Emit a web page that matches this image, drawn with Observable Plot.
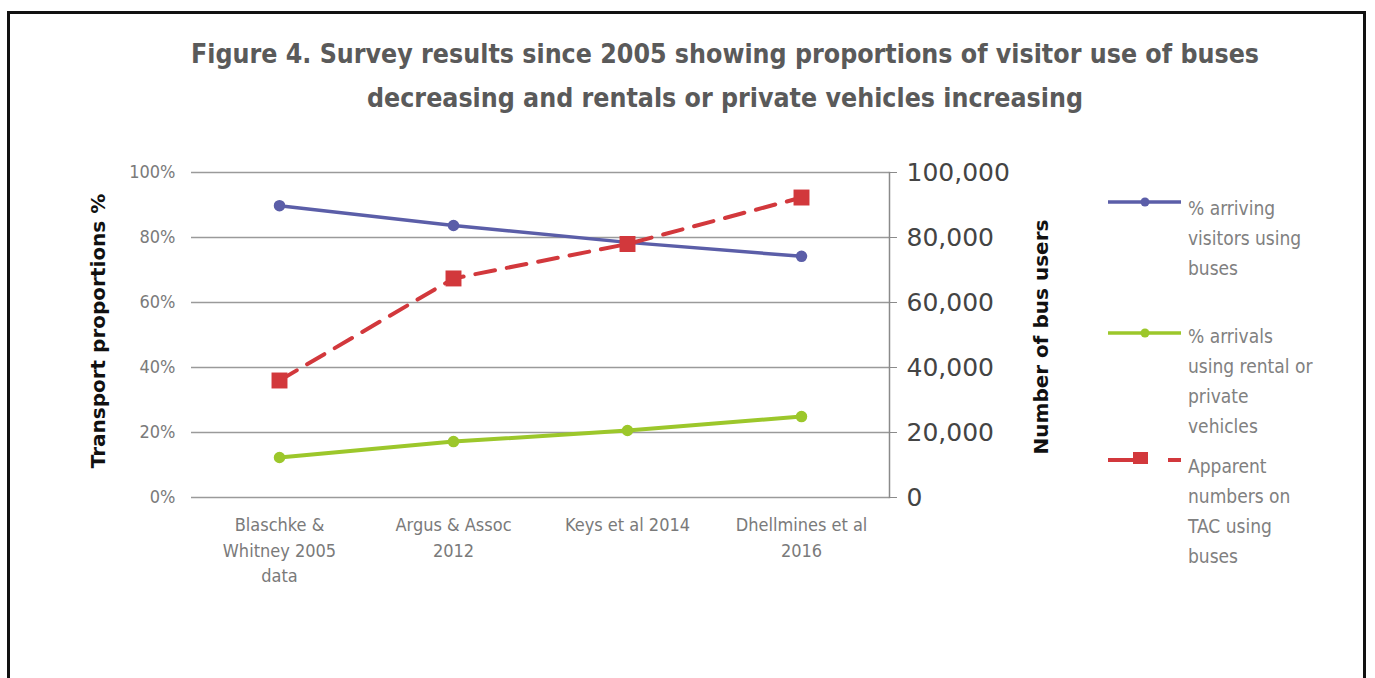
<!DOCTYPE html>
<html><head><meta charset="utf-8">
<script src="https://cdn.jsdelivr.net/npm/d3@7"></script>
<script src="https://cdn.jsdelivr.net/npm/@observablehq/plot@0.6"></script>
<style>
body{margin:0;background:#fff;width:1375px;height:678px;overflow:hidden;position:relative;font-family:"DejaVu Sans Condensed","DejaVu Sans",sans-serif;}
#frame{position:absolute;left:7px;top:11px;width:1359px;height:720px;border:3px solid #111;box-sizing:border-box;}
#title{position:absolute;left:0;top:32px;width:1450px;text-align:center;font-family:"Liberation Sans Narrow","DejaVu Sans Condensed",sans-serif;font-weight:bold;font-size:26.5px;line-height:44px;color:#5a5a5a;}
#chart{position:absolute;left:0;top:0;}
.ax{position:absolute;transform:translate(-50%,-50%) rotate(-90deg);white-space:nowrap;font-family:"DejaVu Sans",sans-serif;font-weight:bold;font-size:20px;color:#111;}
.leg{position:absolute;left:1108px;}
.leg svg{position:absolute;left:0;top:0;overflow:visible;}
.leg .t{position:absolute;left:80px;top:0;width:180px;font-size:19px;line-height:30px;color:#808080;white-space:pre;}
</style></head>
<body>
<div id="frame"></div>
<div id="title"></div>
<div id="chart"></div>
<div id="axl" class="ax" style="left:98px;top:331px;"></div>
<div id="axr" class="ax" style="left:1041px;top:337px;"></div>
<div id="legend"></div>
<script>
// ---- data ----
const titleLines = ["Figure 4. Survey results since 2005 showing proportions of visitor use of buses", "decreasing and rentals or private vehicles increasing"];
const categories = ["Blaschke &\nWhitney 2005\ndata", "Argus & Assoc\n2012", "Keys et al 2014", "Dhellmines et al\n2016"];
const busPct = [89.8, 83.7, 78.5, 74.2];
const rentalPct = [12.3, 17.2, 20.6, 24.9];
const busUsers = [36000, 67400, 78000, 92300];
const leftTicks = [0, 20, 40, 60, 80, 100];
const rightTicks = [0, 20000, 40000, 60000, 80000, 100000];
const leftLabel = "Transport proportions %";
const rightLabel = "Number of bus users";
const seriesNames = ["% arriving\nvisitors using\nbuses", "% arrivals\nusing rental or\nprivate\nvehicles", "Apparent\nnumbers on\nTAC using\nbuses"];
const colors = ["#5b5ea8", "#9cc72b", "#d2383c"];
const usersMax = 100000; // right axis maximum, maps onto the 0–100% left axis

document.getElementById("title").innerHTML = titleLines.join("<br>");
document.getElementById("axl").textContent = leftLabel;
document.getElementById("axr").textContent = rightLabel;

const rows = categories.map((c, i) => ({c, bus: busPct[i], rental: rentalPct[i], users: busUsers[i] / usersMax * 100}));
const fam = '"DejaVu Sans Condensed","DejaVu Sans",sans-serif';

const chart = Plot.plot({
  width: 1375, height: 678,
  marginLeft: 191, marginRight: 486, marginTop: 172, marginBottom: 181,
  x: {type: "point", domain: categories, padding: 0.5},
  y: {domain: [0, 100]},
  style: {fontFamily: fam, background: "transparent", overflow: "visible"},
  marks: [
    Plot.gridY(leftTicks, {stroke: "#9a9a9a", strokeOpacity: 1, strokeWidth: 1.5}),
    Plot.frame({anchor: "right", stroke: "#8a8a8a", strokeWidth: 1.5}),
    Plot.axisY(leftTicks, {anchor: "left", tickSize: 0, tickPadding: 16, tickFormat: d => d + "%", fill: "#7a7a7a", fontSize: 18, label: null}),
    Plot.axisY(rightTicks.map(v => v / usersMax * 100), {anchor: "right", tickSize: 7, tickPadding: 10, stroke: "#8a8a8a", fill: "#444", fontSize: 25, fontFamily: '"DejaVu Sans",sans-serif', tickFormat: d => d3.format(",")(Math.round(d * usersMax / 100)), label: null}),
    Plot.axisX({tickSize: 0, tickPadding: 16, fontSize: 18, fill: "#7a7a7a", lineHeight: 1.4, label: null}),
    Plot.line(rows, {x: "c", y: "bus", stroke: colors[0], strokeWidth: 3.5}),
    Plot.dot(rows, {x: "c", y: "bus", r: 5, fill: colors[0], stroke: colors[0]}),
    Plot.line(rows, {x: "c", y: "rental", stroke: colors[1], strokeWidth: 4}),
    Plot.dot(rows, {x: "c", y: "rental", r: 5, fill: colors[1], stroke: colors[1]}),
    Plot.line(rows, {x: "c", y: "users", stroke: colors[2], strokeWidth: 4, strokeDasharray: "20,12"}),
    Plot.dot(rows, {x: "c", y: "users", symbol: "square", r: 9, fill: colors[2]})
  ]
});
document.getElementById("chart").append(chart);

// ---- legend ----
const legTops = [193, 321, 451];
const lineYs = [9, 12, 9];
const leg = document.getElementById("legend");
seriesNames.forEach((name, i) => {
  const d = document.createElement("div");
  d.className = "leg";
  d.style.top = legTops[i] + "px";
  const y = lineYs[i];
  let sw;
  if (i < 2) {
    sw = `<svg width="80" height="30"><line x1="0" x2="73" y1="${y}" y2="${y}" stroke="${colors[i]}" stroke-width="3.5"/><circle cx="37" cy="${y}" r="4.5" fill="${colors[i]}"/></svg>`;
  } else {
    sw = `<svg width="80" height="30"><line x1="0" x2="30" y1="${y}" y2="${y}" stroke="${colors[i]}" stroke-width="4"/><rect x="25" y="${y-8}" width="15" height="12" fill="${colors[i]}"/><line x1="60" x2="73" y1="${y}" y2="${y}" stroke="${colors[i]}" stroke-width="4"/></svg>`;
  }
  d.innerHTML = sw + `<div class="t">${name}</div>`;
  leg.append(d);
});
</script>
</body></html>
